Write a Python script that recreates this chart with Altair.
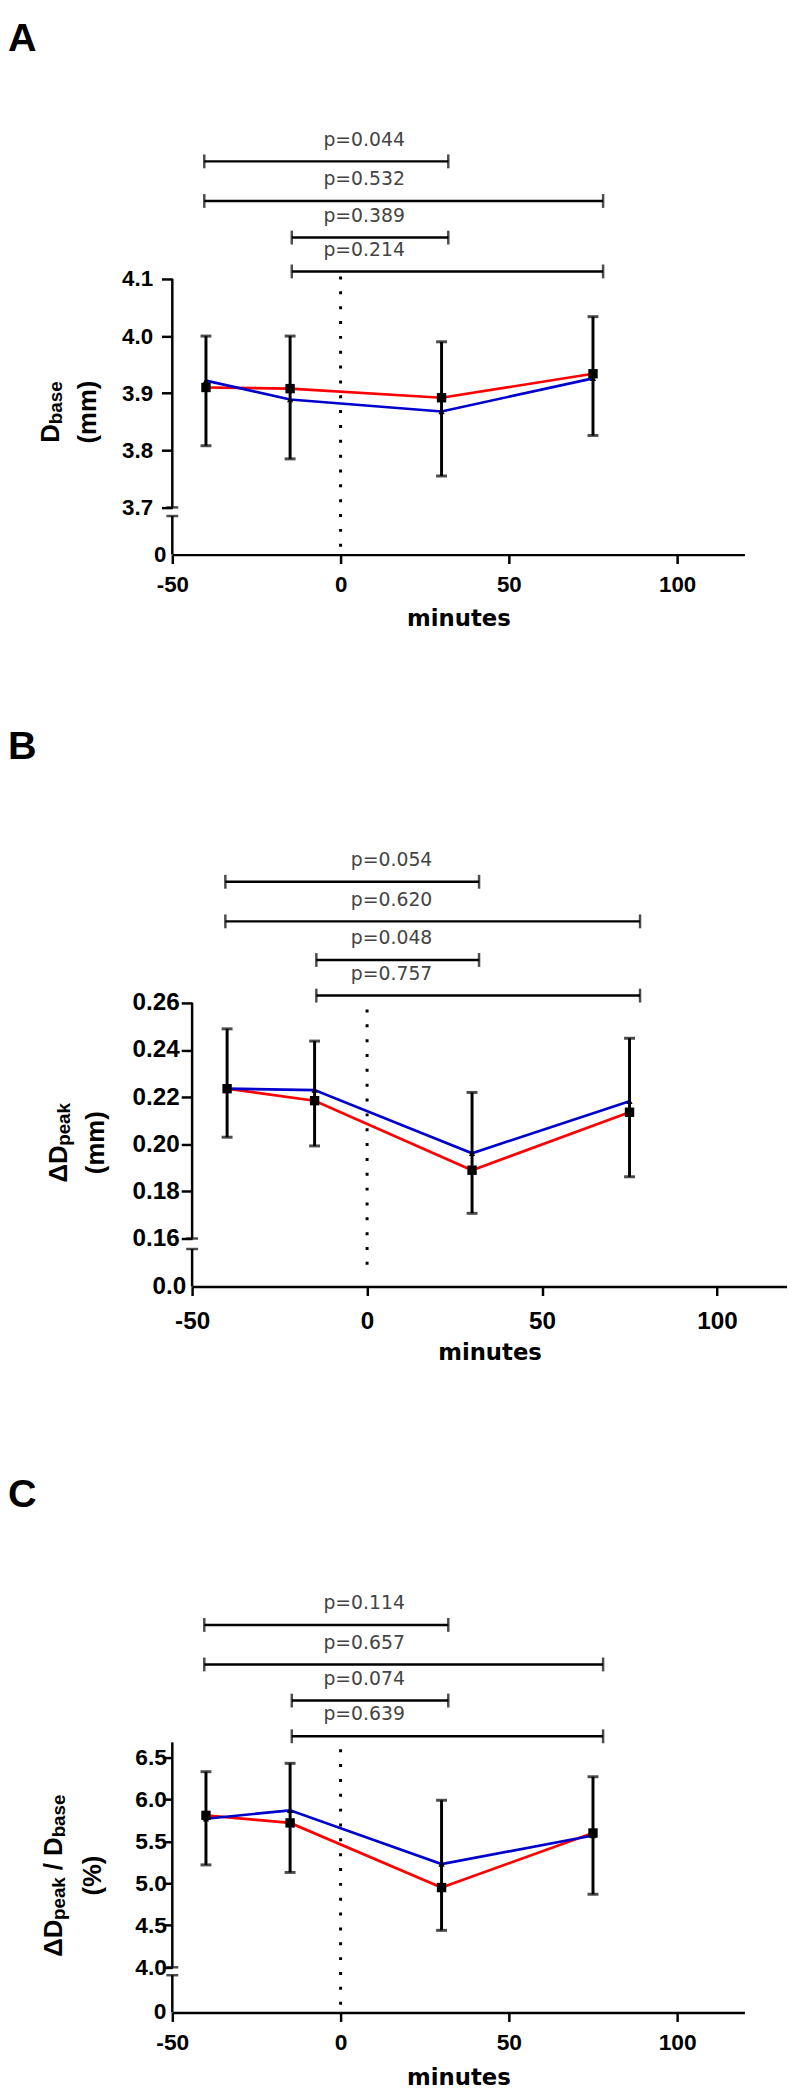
import altair as alt
import pandas as pd

# ---------------- data ----------------
times = [-40, -15, 30, 75]

# Panel A : D_base (mm)
a_red = [3.910, 3.908, 3.892, 3.934]
a_blue = [3.922, 3.889, 3.868, 3.926]
a_lo = [3.808, 3.785, 3.755, 3.826]
a_hi = [4.000, 4.000, 3.990, 4.034]
a_p = ["p=0.044", "p=0.532", "p=0.389", "p=0.214"]

# Panel B : delta D_peak (mm)
b_red = [0.2236, 0.2185, 0.1890, 0.2136]
b_blue = [0.2236, 0.2230, 0.1962, 0.2183]
b_lo = [0.2030, 0.1993, 0.1707, 0.1862]
b_hi = [0.2490, 0.2438, 0.2220, 0.2450]
b_p = ["p=0.054", "p=0.620", "p=0.048", "p=0.757"]

# Panel C : delta D_peak / D_base (%)
c_red = [5.81, 5.72, 4.95, 5.60]
c_blue = [5.77, 5.87, 5.23, 5.57]
c_lo = [5.22, 5.13, 4.44, 4.87]
c_hi = [6.33, 6.43, 5.99, 6.27]
c_p = ["p=0.114", "p=0.657", "p=0.074", "p=0.639"]

# comparison brackets (minutes)
cmp_start = [-40.5, -40.5, -14.5, -14.5]
cmp_end = [32, 78, 32, 78]
p_label_x = 7

x_ticks = [-50, 0, 50, 100]
a_ticks = [3.7, 3.8, 3.9, 4.0, 4.1]
b_ticks = [0.16, 0.18, 0.20, 0.22, 0.24, 0.26]
c_ticks = [4.0, 4.5, 5.0, 5.5, 6.0, 6.5]

# ---------------- styling ----------------
LF = "Liberation Sans"
MAIN, SUB = 26, 19
WB = {'D': 0.722, 'Δ': 0.70, 'b': 0.611, 'a': 0.556, 's': 0.556, 'e': 0.556,
      'p': 0.611, 'k': 0.556, ' ': 0.278, '/': 0.278, '(': 0.333, ')': 0.333,
      'm': 0.889, '%': 0.889}
ONE = pd.DataFrame({'k': [0]})


def tw(s, fs):
    return sum(WB.get(ch, 0.6) for ch in s) * fs


def ytitle(pieces, cx, cy, line2, cx2):
    total = sum(g + tw(t, SUB if sub else MAIN) for t, sub, g in pieces)
    start = cy + total / 2
    bx = cx + 0.716 * MAIN / 2
    out, cum = [], 0
    for t, sub, g in pieces:
        cum += g
        fs = SUB if sub else MAIN
        out.append(alt.Chart(ONE).mark_text(
            text=t, angle=270, align='left', baseline='alphabetic', font=LF,
            fontWeight='bold', fontSize=fs, color='black', dy=(3 if sub else 0)
        ).encode(x=alt.value(bx), y=alt.value(start - cum)))
        cum += tw(t, fs)
    out.append(alt.Chart(ONE).mark_text(
        text=line2, angle=270, align='center', baseline='middle', font=LF,
        fontWeight='bold', fontSize=MAIN, color='black'
    ).encode(x=alt.value(cx2), y=alt.value(cy)))
    return out


def panel(letter, red, blue, lo, hi, pvals, ticks, fmt, zero_text, L):
    seg_lo, top, ppu, gap, extra = L['seg_lo'], L['top'], L['ppu'], L['gap'], L['extra']
    fs = L['fs']
    H = extra + (top - seg_lo) * ppu + gap
    dom_top = top + extra / ppu
    brk_val = seg_lo * (1 - L['brk'] / gap)
    yscale = alt.Scale(domain=[0, seg_lo, dom_top], range=[H, H - gap, 0], nice=False)
    xs = dict(domain=[-50, 120], nice=False, zero=False)
    if L.get('xrange'):
        xs['range'] = L['xrange']
    xscale = alt.Scale(**xs)
    xaxis = alt.Axis(values=x_ticks, labelExpr="datum.value + ''", title='minutes', grid=False,
                     domainColor='black', domainWidth=2.5, tickColor='black', tickWidth=2.5,
                     tickSize=9, labelFont=LF, labelFontSize=fs, labelFontWeight='bold',
                     labelColor='black', labelPadding=L['xlp'], labelFlush=False,
                     titleFont='DejaVu Sans', titleFontSize=23, titleFontWeight='bold',
                     titleColor='black', titlePadding=L['xtp'])
    ya = dict(values=ticks, labelExpr=f"format(datum.value, '{fmt}')", domain=False, grid=False,
              tickSize=L['yts'], tickWidth=2.5, tickColor='black', labelFont=LF,
              labelFontSize=fs, labelFontWeight='bold', labelColor='black',
              labelPadding=L['ylp'], labelFlush=False, title=None)
    if L.get('yoff'):
        ya['offset'] = L['yoff']
    yaxis = alt.Axis(**ya)

    def X(f):
        return alt.X(f, scale=xscale, axis=xaxis)

    def Y(f):
        return alt.Y(f, scale=yscale, axis=yaxis)

    df = pd.DataFrame({'t': times, 'red': red, 'blue': blue, 'lo': lo, 'hi': hi})
    caps = pd.DataFrame({'t': times + times, 'v': lo + hi})
    levels = [top + d / ppu for d in L['br']]
    br = pd.DataFrame({'s': cmp_start, 'e': cmp_end, 'lev': levels, 'lab': pvals,
                       'lx': [p_label_x] * 4})
    brc = pd.DataFrame({'t': cmp_start + cmp_end, 'v': levels + levels})
    ax = pd.DataFrame({'t': [-50, -50], 'a': [0, seg_lo], 'b': [brk_val, top]})
    axc = pd.DataFrame({'t': [-50, -50], 'v': [seg_lo, brk_val]})
    zl = pd.DataFrame({'t': [-50], 'v': [0], 'lab': [zero_text]})

    layers = [
        alt.Chart(pd.DataFrame({'t': [0]})).mark_rule(
            color='black', strokeWidth=3, strokeDash=[3, 12]
        ).encode(x=X('t:Q'), y=alt.value(L['dot'][0]), y2=alt.value(H - L['dot'][1])),
        alt.Chart(ax).mark_rule(color='black', strokeWidth=2.5).encode(
            x=X('t:Q'), y=Y('a:Q'), y2='b:Q'),
        alt.Chart(axc).mark_tick(orient='horizontal', size=12, thickness=2.5, color='black').encode(
            x=X('t:Q'), y=Y('v:Q')),
        alt.Chart(df).mark_line(color='#ff0000', strokeWidth=2.7).encode(x=X('t:Q'), y=Y('red:Q')),
        alt.Chart(df).mark_line(color='#0000cc', strokeWidth=2.7).encode(x=X('t:Q'), y=Y('blue:Q')),
        alt.Chart(df).mark_rule(color='black', strokeWidth=3).encode(
            x=X('t:Q'), y=Y('lo:Q'), y2='hi:Q'),
        alt.Chart(caps).mark_tick(orient='horizontal', size=11, thickness=3, color='black').encode(
            x=X('t:Q'), y=Y('v:Q')),
        alt.Chart(df).mark_point(shape='square', filled=True, size=90, color='black', opacity=1).encode(
            x=X('t:Q'), y=Y('red:Q')),
        alt.Chart(df).mark_point(shape='triangle-up', filled=True, size=40, color='black', opacity=1).encode(
            x=X('t:Q'), y=Y('blue:Q')),
        alt.Chart(br).mark_rule(color='black', strokeWidth=2.5).encode(
            x=X('s:Q'), x2='e:Q', y=Y('lev:Q')),
        alt.Chart(brc).mark_tick(orient='vertical', size=14, thickness=2.5, color='black').encode(
            x=X('t:Q'), y=Y('v:Q')),
        alt.Chart(br).mark_text(font='DejaVu Sans', fontSize=19, color='#444444', dy=-22,
                                baseline='middle').encode(x=X('lx:Q'), y=Y('lev:Q'), text='lab:N'),
        alt.Chart(zl).mark_text(font=LF, fontSize=fs, fontWeight='bold', color='black', align='right',
                                baseline='middle', dx=-6).encode(x=X('t:Q'), y=Y('v:Q'), text='lab:N'),
        alt.Chart(ONE).mark_text(text=letter, align='left', baseline='top', font=LF, fontSize=40,
                                 fontWeight='bold', color='black').encode(
            x=alt.value(-166), y=alt.value(L['letter_y'])),
    ]
    layers += ytitle(L['title'], L['tcx'], L['tcy'], L['title2'], L['tcx2'])
    return alt.layer(*layers).properties(width=L['W'], height=H)


LA = dict(seg_lo=3.7, top=4.1, ppu=577, gap=47.7, extra=0, brk=8.7, W=578, fs=22.5,
          xlp=10, xtp=12, yts=11, ylp=9, br=[118.8, 78.8, 41.8, 7.6], dot=(-2.5, 8),
          letter_y=-262.5, title=[("D", False, 0), ("base", True, 0)], title2="(mm)",
          tcx=-124, tcx2=-85, tcy=134.5)
LB = dict(seg_lo=0.16, top=0.26, ppu=2380, gap=48.6, extra=0, brk=10.6, W=621, fs=24.5,
          xrange=[20, 621], yoff=-20,
          xlp=14, xtp=9, yts=11, ylp=2, br=[122.4, 82.4, 43.4, 7.4], dot=(6.6, 20),
          letter_y=-278.8, title=[("ΔD", False, 0), ("peak", True, 0)], title2="(mm)",
          tcx=-116, tcx2=-77.5, tcy=141.2)
LC = dict(seg_lo=4.0, top=6.68, ppu=84.8, gap=45.7, extra=7.6, brk=8, W=578, fs=23,
          xlp=10, xtp=13, yts=9, ylp=-3, br=[118.6, 78.7, 42.2, 6.1], dot=(14.6, 7.7),
          letter_y=-262.4,
          title=[("ΔD", False, 0), ("peak", True, 0), ("/ D", False, 7), ("base", True, 0)],
          title2="(%)", tcx=-121, tcx2=-80, tcy=142.2)

pA = panel("A", a_red, a_blue, a_lo, a_hi, a_p, a_ticks, '.1f', '0', LA)
pB = panel("B", b_red, b_blue, b_lo, b_hi, b_p, b_ticks, '.2f', '0.0', LB)
pC = panel("C", c_red, c_blue, c_lo, c_hi, c_p, c_ticks, '.1f', '0', LC)

chart = alt.vconcat(pA, pB, pC, spacing=452.4, bounds='flush').properties(
    padding={"left": 0, "top": 0, "right": 0, "bottom": 0},
    background='white'
).configure_view(stroke=None)

chart.save("out.html", embed_options={"renderer": "svg", "actions": False})
